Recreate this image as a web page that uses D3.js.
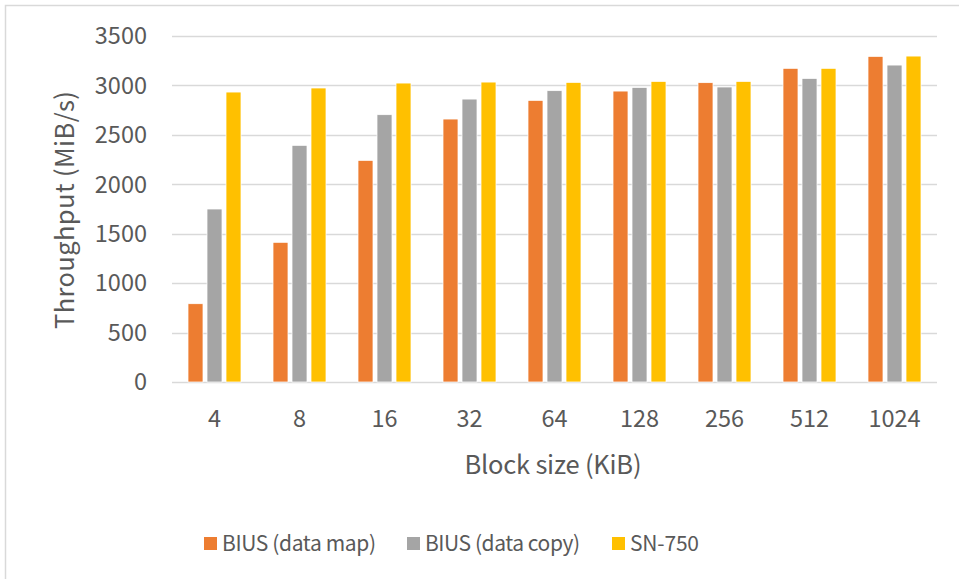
<!DOCTYPE html>
<html>
<head>
<meta charset="utf-8">
<script src="https://cdn.jsdelivr.net/npm/d3@7"></script>
<style>
  html, body { margin: 0; padding: 0; background: #fff; }
  svg { display: block; font-family: "Noto Sans CJK KR", "Open Sans", sans-serif; }
</style>
</head>
<body>
<svg id="chart" width="959" height="579"></svg>
<script>
// Block sizes (KiB) on the x axis
const blockSizes = ["4", "8", "16", "32", "64", "128", "256", "512", "1024"];
// Throughput in MiB/s for each configuration
const dataMap  = [792, 1413, 2242, 2660, 2849, 2943, 3028, 3173, 3294];
const dataCopy = [1750, 2394, 2704, 2862, 2947, 2980, 2984, 3071, 3206];
const sn750    = [2933, 2974, 3024, 3034, 3031, 3041, 3041, 3173, 3297];
const seriesNames = ["BIUS (data map)", "BIUS (data copy)", "SN-750"];
const seriesColors = ["#ED7D31", "#A5A5A5", "#FFC000"];
const yTicks = [0, 500, 1000, 1500, 2000, 2500, 3000, 3500];

const series = [dataMap, dataCopy, sn750];
const svg = d3.select("#chart");
const textColor = "#595959";

// Outer chart frame
svg.append("rect")
  .attr("x", 5.5).attr("y", 5.5)
  .attr("width", 1000).attr("height", 1000)
  .attr("fill", "none").attr("stroke", "#d9d9d9").attr("stroke-width", 1.5);

const plot = { left: 172, right: 937, top: 36, bottom: 382 };

const x = d3.scaleBand().domain(blockSizes).range([plot.left, plot.right]).paddingInner(0).paddingOuter(0);
const y = d3.scaleLinear().domain([0, 3500]).range([plot.bottom, plot.top]);

// Horizontal gridlines
svg.append("g").selectAll("line").data(yTicks).join("line")
  .attr("x1", plot.left).attr("x2", plot.right)
  .attr("y1", d => Math.round(y(d)) + 0.5).attr("y2", d => Math.round(y(d)) + 0.5)
  .attr("stroke", "#d9d9d9").attr("stroke-width", 1.5);

// Y tick labels
svg.append("g").selectAll("text").data(yTicks).join("text")
  .attr("x", 147).attr("y", d => y(d))
  .attr("dy", "0.35em")
  .attr("text-anchor", "end")
  .attr("fill", textColor).attr("font-size", 23.5)
  .text(d => d);

// Bars within each category group
const barW = 15, barGap = 4;
const groupW = series.length * barW + (series.length - 1) * barGap;
const bars = svg.append("g");
series.forEach((vals, si) => {
  bars.selectAll(null).data(vals).join("rect")
    .attr("x", (d, i) => x(blockSizes[i]) + x.bandwidth() / 2 - groupW / 2 + si * (barW + barGap))
    .attr("y", d => y(d))
    .attr("width", barW)
    .attr("height", d => y(0) - y(d))
    .attr("fill", seriesColors[si])
    .attr("stroke", "#fff").attr("stroke-width", 0.75);
});

// X tick labels
svg.append("g").selectAll("text").data(blockSizes).join("text")
  .attr("x", d => x(d) + x.bandwidth() / 2)
  .attr("y", 418.5).attr("dy", "0.35em")
  .attr("text-anchor", "middle")
  .attr("fill", textColor).attr("font-size", 23.5)
  .text(d => d);

// Axis titles
svg.append("text")
  .attr("x", 553).attr("y", 465).attr("dy", "0.35em")
  .attr("text-anchor", "middle")
  .attr("fill", textColor).attr("font-size", 25.5)
  .attr("textLength", 177).attr("lengthAdjust", "spacing")
  .text("Block size (KiB)");

svg.append("text")
  .attr("transform", "translate(65,210) rotate(-90)")
  .attr("dy", "0.35em")
  .attr("text-anchor", "middle")
  .attr("fill", textColor).attr("font-size", 25.5)
  .attr("textLength", 238).attr("lengthAdjust", "spacing")
  .text("Throughput (MiB/s)");

// Legend
const legendX = [204, 407, 612];
const legendLen = [154, 155, 69];
const legend = svg.append("g");
seriesNames.forEach((name, i) => {
  legend.append("rect")
    .attr("x", legendX[i]).attr("y", 537)
    .attr("width", 13).attr("height", 13)
    .attr("fill", seriesColors[i]);
  legend.append("text")
    .attr("x", legendX[i] + 18).attr("y", 543.5).attr("dy", "0.35em")
    .attr("fill", textColor).attr("font-size", 21)
    .attr("textLength", legendLen[i]).attr("lengthAdjust", "spacing")
    .text(name);
});
</script>
</body>
</html>
